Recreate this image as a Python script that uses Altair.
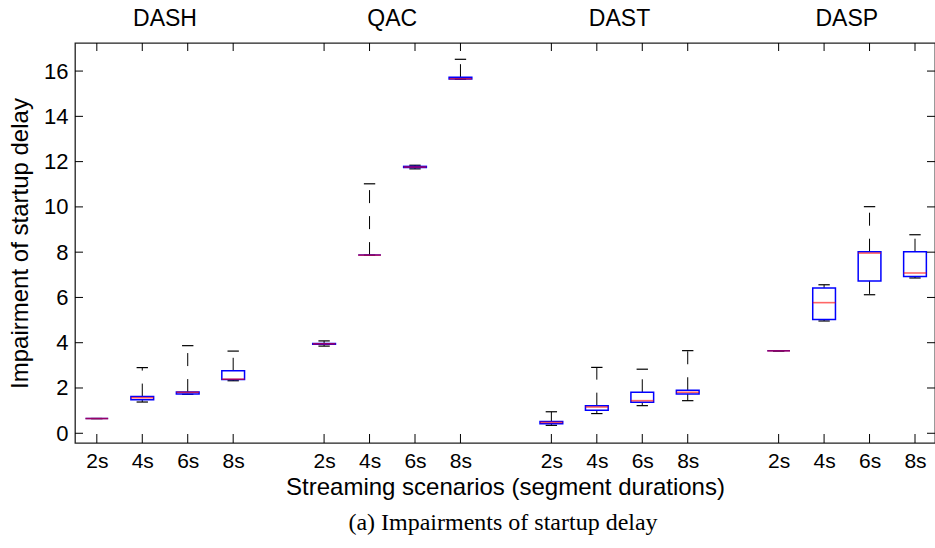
import altair as alt
import pandas as pd

# ---------------- data ----------------
groups = ["DASH", "QAC", "DAST", "DASP"]
durations = ["2s", "4s", "6s", "8s"]

# per box, order: DASH 2s..8s, QAC 2s..8s, DAST 2s..8s, DASP 2s..8s
mins    = [0.65, 1.38, 1.72, 2.32,   3.85, 7.87, 11.68, 15.64,   0.35, 0.87, 1.22, 1.44,   3.64, 4.96, 6.12, 6.86]
q1s     = [0.65, 1.48, 1.74, 2.37,   3.93, 7.87, 11.74, 15.65,   0.42, 1.02, 1.37, 1.74,   3.64, 5.03, 6.73, 6.93]
medians = [0.65, 1.57, 1.81, 2.39,   3.95, 7.87, 11.76, 15.66,   0.48, 1.16, 1.44, 1.81,   3.64, 5.77, 7.96, 7.08]
q3s     = [0.65, 1.62, 1.82, 2.76,   3.97, 7.87, 11.79, 15.73,   0.52, 1.22, 1.81, 1.90,   3.64, 6.42, 8.02, 8.02]
maxs    = [0.65, 2.90, 3.87, 3.63,   4.08, 11.02, 11.84, 16.52,  0.95, 2.91, 2.83, 3.65,   3.64, 6.56, 10.01, 8.77]

y_ticks = [0, 2, 4, 6, 8, 10, 12, 14, 16]

y_title = "Impairment of startup delay"
x_title = "Streaming scenarios (segment durations)"
caption = "(a) Impairments of startup delay"

rows = []
for gi, g in enumerate(groups):
    for di, d in enumerate(durations):
        k = gi * 4 + di
        rows.append(dict(pos=gi * 5 + di + 1, group=g, dur=d,
                         mn=mins[k], q1=q1s[k], med=medians[k], q3=q3s[k], mx=maxs[k]))
df = pd.DataFrame(rows)
pos_values = [int(p) for p in df["pos"]]
group_df = pd.DataFrame({"group": groups, "center": [gi * 5 + 2.5 for gi in range(len(groups))]})
ytick_df = pd.DataFrame({"v": y_ticks})
cap_df = pd.DataFrame({"t": [caption]})

# ---------------- layout / style ----------------
W, H = 860, 400
FONT = "Liberation Sans"
FS = 21

xscale = alt.Scale(domain=[0.52, 19.44], nice=False, zero=False)
yscale = alt.Scale(domain=[-0.43, 17.24], nice=False, zero=False)

label_expr = "[" + ",".join(f"'{d}'" for d in durations) + "][(datum.value-1)%5]"

xaxis = alt.Axis(values=pos_values, labelExpr=label_expr, ticks=False, domain=False, grid=False,
                 labelFont=FONT, labelFontSize=FS, labelColor="black", labelPadding=7,
                 labelFlush=False, labelOverlap=False,
                 title=x_title, titleFont=FONT, titleFontSize=24, titleFontWeight="normal",
                 titleColor="black", titleY=51, titleBaseline="alphabetic")
yaxis = alt.Axis(values=y_ticks, ticks=False, domain=False, grid=False,
                 labelFont=FONT, labelFontSize=22, labelColor="black", labelPadding=7,
                 labelFlush=False, labelOverlap=False,
                 title=y_title, titleFont=FONT, titleFontSize=24, titleFontWeight="normal",
                 titleColor="black", titleX=-55, titleY=H / 2, titleBaseline="middle")


def X(field):
    return alt.X(f"{field}:Q", scale=xscale, axis=xaxis)


def Y(field):
    return alt.Y(f"{field}:Q", scale=yscale, axis=yaxis)


base = alt.Chart(df)
capped = base.transform_calculate(cl="datum.pos-0.125", cr="datum.pos+0.125")
boxed = base.transform_calculate(bl="datum.pos-0.25", br="datum.pos+0.25")

whisk_up = base.mark_rule(color="black", strokeWidth=1, strokeDash=[13, 13]).encode(
    x=X("pos"), y=Y("q3"), y2="mx:Q")
whisk_lo = base.mark_rule(color="black", strokeWidth=1, strokeDash=[13, 13]).encode(
    x=X("pos"), y=Y("q1"), y2="mn:Q")
cap_up = capped.mark_rule(color="black", strokeWidth=1.2).encode(x=X("cl"), x2="cr:Q", y=Y("mx"))
cap_lo = capped.mark_rule(color="black", strokeWidth=1.2).encode(x=X("cl"), x2="cr:Q", y=Y("mn"))
box = boxed.mark_rect(fill="white", fillOpacity=0, stroke="#0000ff", strokeWidth=1.5).encode(
    x=X("bl"), x2="br:Q", y=Y("q1"), y2="q3:Q")
median = boxed.mark_rule(color="#ff0000", strokeWidth=1.6, opacity=0.6).encode(
    x=X("bl"), x2="br:Q", y=Y("med"))

tick_l = alt.Chart(ytick_df).mark_rule(color="black", strokeWidth=1).encode(
    y=Y("v"), x=alt.value(0), x2=alt.value(8))
tick_r = alt.Chart(ytick_df).mark_rule(color="black", strokeWidth=1).encode(
    y=Y("v"), x=alt.value(W - 8), x2=alt.value(W))
tick_b = base.mark_rule(color="black", strokeWidth=1).encode(
    x=X("pos"), y=alt.value(H - 9), y2=alt.value(H))
tick_t = base.mark_rule(color="black", strokeWidth=1).encode(
    x=X("pos"), y=alt.value(0), y2=alt.value(8))

group_txt = alt.Chart(group_df).mark_text(font=FONT, fontSize=23, baseline="alphabetic",
                                          color="black").encode(
    x=X("center"), y=alt.value(-17), text="group:N")

cap_txt = alt.Chart(cap_df).mark_text(font="Liberation Serif", fontSize=24, baseline="alphabetic",
                                      color="black").encode(
    x=alt.value(W / 2 - 2), y=alt.value(487), text="t:N")

chart = alt.layer(
    whisk_up, whisk_lo, cap_up, cap_lo, box, median,
    tick_l, tick_r, tick_b, tick_t, group_txt, cap_txt
).properties(
    width=W, height=H,
    autosize=alt.AutoSizeParams(type="none"),
    padding={"left": 75, "top": 43, "right": 0, "bottom": 105},
    background="white",
).configure_view(stroke="#222222", strokeWidth=1.3)

chart.save("out.html", embed_options={"renderer": "svg", "actions": False})
